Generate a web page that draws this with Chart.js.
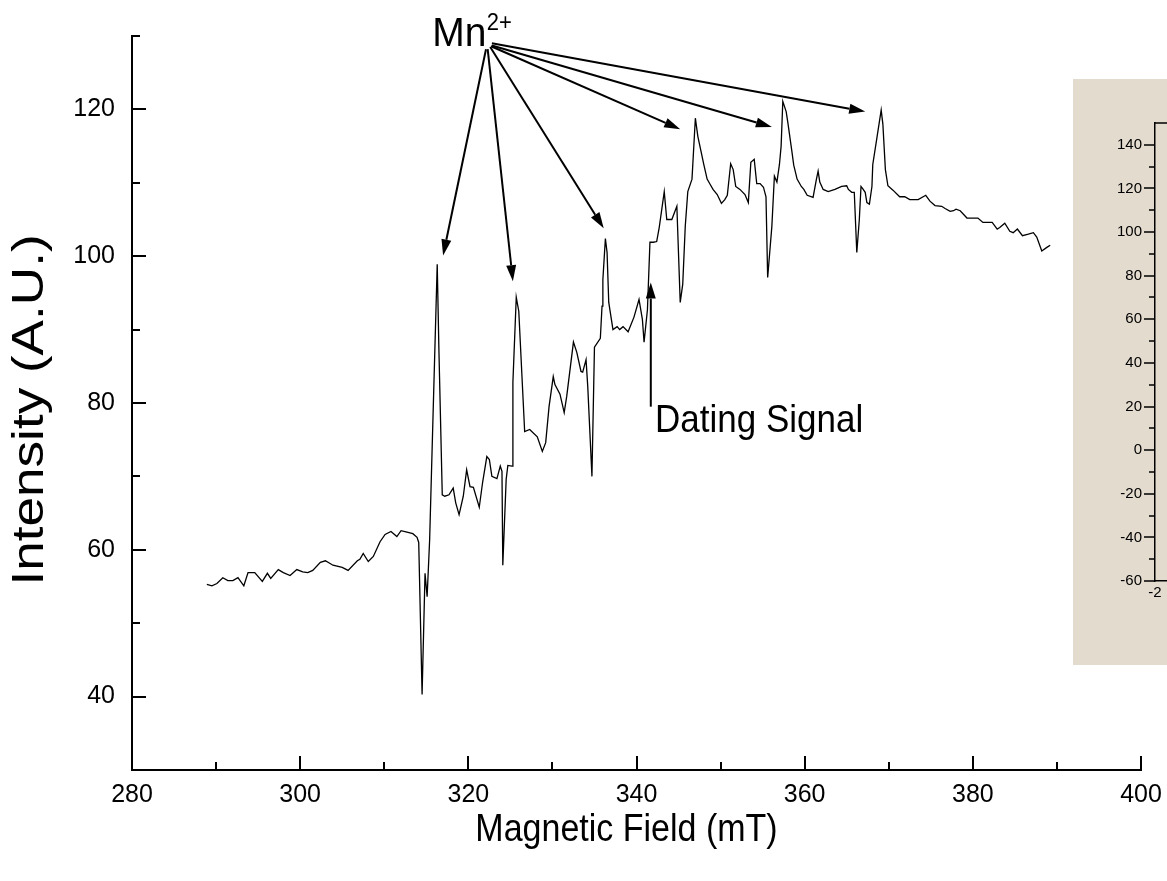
<!DOCTYPE html>
<html>
<head>
<meta charset="utf-8">
<title>EPR spectrum</title>
<script src="https://cdn.jsdelivr.net/npm/chart.js@4.4.1/dist/chart.umd.min.js"></script>
<style>
html, body { margin: 0; padding: 0; background: #fff; overflow: hidden; }
#main { position: absolute; left: 0; top: 0; }
#insetBox { position: absolute; left: 1073px; top: 79px; width: 94px; height: 586px; overflow: hidden; background: #e3dbce; }
#inset { display: block; }
</style>
</head>
<body>
<canvas id="main" width="1167" height="881"></canvas>
<div id="insetBox"><canvas id="inset" width="200" height="586"></canvas></div>
<script>
// spectrum: field (mT) and intensity (A.U.)
const fieldMT = [288.9,289.5,290.1,290.8,291.4,292.0,292.6,293.3,293.8,294.6,295.5,296.1,296.5,297.4,298.0,298.8,299.6,300.3,300.9,301.5,
  302.4,303.0,303.9,305.0,305.7,306.8,307.1,307.5,308.1,308.7,309.5,310.1,310.8,311.5,312.0,312.7,313.4,313.9,314.1,314.5,
  314.85,315.1,315.4,315.8,316.3,316.5,316.9,317.2,317.7,318.2,318.5,318.9,319.4,319.8,320.2,320.6,321.3,321.7,322.2,322.5,
  322.8,323.4,323.8,324.0,324.1,324.5,324.7,325.2,325.3,325.7,326.0,326.7,327.3,328.2,328.8,329.2,329.6,330.1,330.3,330.9,
  331.4,331.7,332.5,332.9,333.4,333.6,334.0,334.2,334.7,335.0,335.7,335.9,336.0,336.3,336.5,336.7,337.2,337.7,338.0,338.4,
  339.0,339.7,340.3,340.7,340.9,341.3,341.6,342.0,342.4,342.7,343.3,343.6,344.2,344.8,345.2,345.5,345.8,346.1,346.6,347.0,
  347.3,347.8,348.0,348.4,348.7,349.1,349.6,350.1,350.5,350.8,351.2,351.5,351.8,352.3,352.9,353.3,353.6,354.0,354.3,354.7,
  355.1,355.4,355.6,356.1,356.4,356.7,357.0,357.2,357.4,357.8,358.0,358.5,358.7,359.1,359.6,359.9,360.3,361.0,361.4,361.6,
  361.8,362.2,362.8,363.6,364.4,365.0,365.2,365.6,365.9,366.2,366.5,366.7,366.9,367.2,367.4,367.7,368.0,368.1,368.6,369.1,
  369.3,369.6,369.9,370.5,371.3,371.9,372.5,373.5,374.4,374.9,375.5,376.3,376.7,377.3,377.7,378.0,378.5,379.3,380.6,381.2,
  382.3,382.9,383.2,383.8,384.4,384.8,385.3,385.9,386.6,387.2,387.6,388.2,388.8,389.2];
const intensity = [55.3,55.1,55.4,56.2,55.8,55.8,56.2,55.1,56.9,56.9,55.7,56.8,56.1,57.3,56.9,56.5,57.3,57.0,56.9,57.2,
  58.3,58.5,57.9,57.6,57.2,58.5,58.7,59.5,58.4,59.1,61.1,62.1,62.5,61.8,62.6,62.4,62.2,61.7,61.0,40.3,
  56.8,53.6,61.4,78.2,98.9,87.3,67.5,67.3,67.5,68.4,66.4,64.8,67.3,70.9,68.6,68.5,65.8,69.2,72.7,72.3,
  70.0,69.7,71.4,70.7,57.9,69.6,71.5,71.4,82.8,94.4,92.5,76.1,76.4,75.4,73.4,74.6,79.5,83.6,82.5,81.2,
  78.7,80.9,88.3,86.9,84.3,84.2,85.9,82.3,70.0,87.6,88.8,93.2,96.8,102.4,100.5,93.7,90.0,90.4,90.0,90.4,
  89.7,91.7,94.1,91.4,88.3,92.7,101.9,101.9,102.0,103.9,108.8,105.0,105.0,106.8,93.7,96.2,104.1,108.8,110.5,118.8,
  116.3,113.6,112.5,110.5,109.9,109.1,108.4,107.2,107.7,108.3,112.6,111.8,109.5,109.1,108.4,107.3,112.8,113.2,109.9,109.9,
  109.4,108.1,97.1,104.1,110.9,110.1,112.5,115.0,121.1,119.7,118.2,114.1,112.4,110.5,109.5,109.1,108.3,108.0,110.5,111.6,
  110.1,109.1,108.8,109.1,109.5,109.6,109.1,108.7,108.7,100.5,105.0,109.5,109.2,108.7,107.3,107.1,109.5,112.5,116.2,119.9,
  118.0,111.8,109.6,109.0,108.1,108.1,107.7,107.7,108.3,107.5,106.9,106.8,106.5,106.1,106.2,106.4,106.2,105.2,105.2,104.6,
  104.6,103.7,103.9,104.5,103.4,103.2,103.7,102.8,103.0,103.2,102.6,100.7,101.2,101.5];

// axis ticks
const xMajor = [280, 300, 320, 340, 360, 380, 400];
const xMinor = [290, 310, 330, 350, 370, 390];
const yMajor = [40, 60, 80, 100, 120];
const yMinor = [50, 70, 90, 110, 130];
const insetYMajor = [-60, -40, -20, 0, 20, 40, 60, 80, 100, 120, 140];
const insetYMinor = [-50, -30, -10, 10, 30, 50, 70, 90, 110, 130];
const insetXTicks = [-2];

// Mn2+ arrows (data units): base near the label, tip at each line
const arrowBaseX = [322.1, 322.3, 322.6, 322.7, 322.8, 322.8];
const arrowBaseY = [128.2, 128.2, 128.5, 128.6, 128.7, 129.0];
const arrowTipX = [317.0, 325.3, 336.1, 345.2, 356.1, 367.2];
const arrowTipY = [100.1, 96.6, 103.8, 117.3, 117.6, 119.7];
const datingX = 341.7;
const datingY = [79.5, 96.4];
const mnLabel = [315.7, 128.6];
const mnSup = [322.2, 130.8];
const datingLabel = [342.2, 76.1];

const FONT = '"Liberation Sans", Arial, sans-serif';

// ticks drawn on the axis line (inward for the main plot, outward for the inset)
const tickMarks = {
  id: 'tickMarks',
  afterDraw(chart, args, o) {
    const {ctx, chartArea: a, scales} = chart;
    ctx.save();
    ctx.strokeStyle = '#000';
    ctx.lineWidth = o.width;
    ctx.beginPath();
    const xs = (vals, len) => vals.forEach(v => {
      const p = Math.round(scales.x.getPixelForValue(v));
      ctx.moveTo(p, a.bottom);
      ctx.lineTo(p, a.bottom - o.dir * len);
    });
    const ys = (vals, len) => vals.forEach(v => {
      const p = Math.round(scales.y.getPixelForValue(v));
      ctx.moveTo(a.left, p);
      ctx.lineTo(a.left + o.dir * len, p);
    });
    xs(o.x.major, o.major); xs(o.x.minor, o.minor);
    ys(o.y.major, o.major); ys(o.y.minor, o.minor);
    if (o.frameTop) {
      ctx.moveTo(a.left, Math.round(a.top));
      ctx.lineTo(a.right, Math.round(a.top));
    }
    ctx.stroke();
    ctx.restore();
  }
};

function arrow(ctx, x0, y0, x1, y1) {
  const ang = Math.atan2(y1 - y0, x1 - x0), head = 16, half = 5;
  const bx = x1 - head * Math.cos(ang), by = y1 - head * Math.sin(ang);
  ctx.beginPath();
  ctx.moveTo(x0, y0);
  ctx.lineTo(bx, by);
  ctx.stroke();
  ctx.beginPath();
  ctx.moveTo(x1, y1);
  ctx.lineTo(bx + half * Math.sin(ang), by - half * Math.cos(ang));
  ctx.lineTo(bx - half * Math.sin(ang), by + half * Math.cos(ang));
  ctx.closePath();
  ctx.fill();
}

// text a little taller than the font, as in the original export
function tallText(ctx, text, x, y, size, k, vertical, align, base) {
  ctx.save();
  ctx.translate(x, y);
  if (vertical) { ctx.rotate(-Math.PI / 2); ctx.scale(k, 1); } else { ctx.scale(1, k); }
  ctx.font = size + 'px ' + FONT;
  ctx.textAlign = align;
  ctx.textBaseline = base;
  ctx.fillText(text, 0, 0);
  ctx.restore();
}

const notes = {
  id: 'notes',
  afterDatasetsDraw(chart) {
    const {ctx, chartArea: a, scales: {x, y}} = chart;
    ctx.save();
    ctx.strokeStyle = '#000';
    ctx.fillStyle = '#000';
    ctx.lineWidth = 2;
    for (let i = 0; i < arrowTipX.length; i++) {
      arrow(ctx, x.getPixelForValue(arrowBaseX[i]), y.getPixelForValue(arrowBaseY[i]),
        x.getPixelForValue(arrowTipX[i]), y.getPixelForValue(arrowTipY[i]));
    }
    arrow(ctx, x.getPixelForValue(datingX), y.getPixelForValue(datingY[0]),
      x.getPixelForValue(datingX), y.getPixelForValue(datingY[1]));
    tallText(ctx, 'Mn', x.getPixelForValue(mnLabel[0]), y.getPixelForValue(mnLabel[1]), 39, 1.05, false, 'left', 'alphabetic');
    tallText(ctx, '2+', x.getPixelForValue(mnSup[0]), y.getPixelForValue(mnSup[1]), 22, 1.05, false, 'left', 'alphabetic');
    tallText(ctx, 'Dating Signal', x.getPixelForValue(datingLabel[0]), y.getPixelForValue(datingLabel[1]), 35, 1.12, false, 'left', 'alphabetic');
    // axis titles
    tallText(ctx, 'Magnetic Field (mT)', (a.left + a.right) / 2 - 10, a.bottom + 60, 34, 1.15, false, 'center', 'middle');
    tallText(ctx, 'Intensity (A.U.)', a.left - 101, (a.top + a.bottom) / 2 + 7, 45, 1.18, true, 'center', 'middle');
    ctx.restore();
  }
};

new Chart(document.getElementById('main'), {
  type: 'scatter',
  data: {
    datasets: [{
      data: fieldMT.map((v, i) => ({x: v, y: intensity[i]})),
      showLine: true,
      borderColor: '#000',
      borderWidth: 1.3,
      pointRadius: 0,
      tension: 0,
      fill: false
    }]
  },
  options: {
    responsive: false,
    animation: false,
    events: [],
    layout: {padding: {top: 36, right: 26, left: 0, bottom: 0}},
    plugins: {
      legend: {display: false},
      tooltip: {enabled: false},
      tickMarks: {dir: 1, major: 14, minor: 8, width: 2,
        x: {major: xMajor, minor: xMinor}, y: {major: yMajor, minor: yMinor}}
    },
    scales: {
      x: {
        type: 'linear', min: 280, max: 400,
        afterBuildTicks: s => { s.ticks = xMajor.map(v => ({value: v})); },
        afterFit: s => { s.height = 111; s.paddingLeft = 0; s.paddingRight = 0; },
        grid: {display: false, drawTicks: false},
        border: {display: true, color: '#000', width: 2},
        ticks: {color: '#000', font: {family: FONT, size: 25, lineHeight: 1}, padding: 13, maxRotation: 0, autoSkip: false}
      },
      y: {
        type: 'linear', min: 30, max: 130,
        afterBuildTicks: s => { s.ticks = yMajor.map(v => ({value: v})); },
        afterFit: s => { s.width = 132; s.paddingTop = 0; s.paddingBottom = 0; },
        grid: {display: false, drawTicks: false},
        border: {display: true, color: '#000', width: 2},
        ticks: {color: '#000', font: {family: FONT, size: 25, lineHeight: 1}, padding: 17}
      }
    }
  },
  plugins: [tickMarks, notes]
});

// cropped inset on the right edge
new Chart(document.getElementById('inset'), {
  type: 'scatter',
  data: {datasets: []},
  options: {
    responsive: false,
    animation: false,
    events: [],
    layout: {padding: {top: 44, right: 0, left: 0, bottom: 0}},
    plugins: {
      legend: {display: false},
      tooltip: {enabled: false},
      tickMarks: {dir: -1, major: 11, minor: 6, width: 1.5, frameTop: true,
        x: {major: [], minor: []}, y: {major: insetYMajor, minor: insetYMinor}}
    },
    scales: {
      x: {
        type: 'linear', min: -2, max: 10,
        afterBuildTicks: s => { s.ticks = insetXTicks.map(v => ({value: v})); },
        afterFit: s => { s.height = 84; s.paddingLeft = 0; s.paddingRight = 0; },
        grid: {display: false, drawTicks: false},
        border: {display: true, color: '#000', width: 1.5},
        ticks: {color: '#000', font: {family: FONT, size: 15, lineHeight: 1}, padding: 4, maxRotation: 0, autoSkip: false}
      },
      y: {
        type: 'linear', min: -60, max: 150,
        afterBuildTicks: s => { s.ticks = insetYMajor.map(v => ({value: v})); },
        afterFit: s => { s.width = 82; s.paddingTop = 0; s.paddingBottom = 0; },
        grid: {display: false, drawTicks: false},
        border: {display: true, color: '#000', width: 1.5},
        ticks: {color: '#000', font: {family: FONT, size: 15, lineHeight: 1}, padding: 13}
      }
    }
  },
  plugins: [tickMarks]
});
</script>
</body>
</html>
